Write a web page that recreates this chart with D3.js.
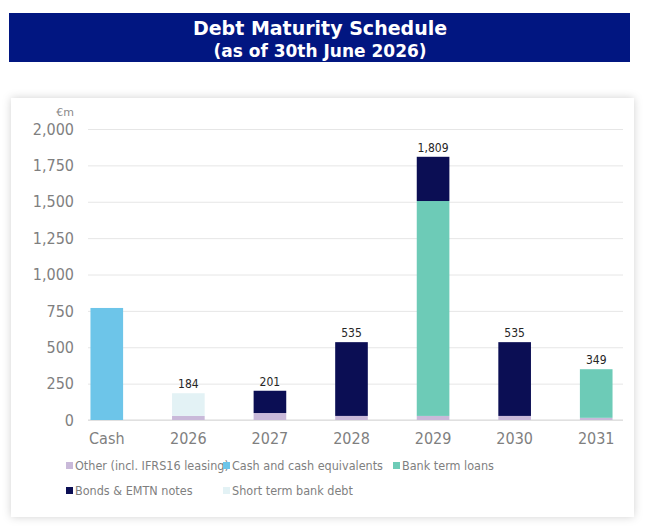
<!DOCTYPE html>
<html><head><meta charset="utf-8">
<script src="https://cdn.jsdelivr.net/npm/d3@7"></script>
<style>body{margin:0;background:#fff;font-family:"DejaVu Sans",Verdana,sans-serif}</style>
</head><body>
<svg id="c" width="645" height="530"></svg>
<script>
const categories=["Cash","2026","2027","2028","2029","2030","2031"];
const other=[0,28,48,28,28,28,15];
const cashEq=[770,0,0,0,0,0,0];
const bankLoans=[0,0,0,0,1477,0,334];
const bonds=[0,0,153,507,304,507,0];
const shortTerm=[0,156,0,0,0,0,0];
const totals=[null,184,201,535,1809,535,349];
const yTicks=[0,250,500,750,1000,1250,1500,1750,2000];
const seriesNames=["Other (incl. IFRS16 leasing)","Cash and cash equivalents","Bank term loans","Bonds & EMTN notes","Short term bank debt"];
const colors=["#c9b9d9","#6dc5e9","#6dcbb7","#0b0e54","#e3f2f5"];
const seriesData=[other,cashEq,bankLoans,bonds,shortTerm];

const svg=d3.select("#c");
const defs=svg.append("defs");
const f=defs.append("filter").attr("id","sh").attr("x","-5%").attr("y","-5%").attr("width","110%").attr("height","110%");
f.append("feDropShadow").attr("dx",0).attr("dy",0).attr("stdDeviation",4).attr("flood-color","#000").attr("flood-opacity",0.18);
svg.append("rect").attr("x",9).attr("y",13).attr("width",621).attr("height",49).attr("fill","#011681");
svg.append("text").attr("x",320).attr("y",35).attr("text-anchor","middle").attr("fill","#fff").attr("font-weight","bold").attr("font-size",19).text("Debt Maturity Schedule");
svg.append("text").attr("x",320).attr("y",57).attr("text-anchor","middle").attr("fill","#fff").attr("font-weight","bold").attr("font-size",17).text("(as of 30th June 2026)");
svg.append("rect").attr("x",11).attr("y",98).attr("width",623).attr("height",419).attr("fill","#fff").attr("filter","url(#sh)");

const x=d3.scaleBand().domain(categories).range([66,637]).paddingInner(0.6).paddingOuter(0.3);
const y=d3.scaleLinear().domain([0,2000]).range([420,129]);
const ya=svg.append("g").attr("transform","translate(88,0)").call(d3.axisLeft(y).tickValues(yTicks).tickSize(-535).tickFormat(d3.format(",")));
ya.select(".domain").remove();
ya.selectAll(".tick line").attr("stroke","#e6e6e6");
ya.selectAll(".tick text").attr("fill","#7f7f7f").attr("font-size",16).attr("x",-14).attr("font-family","DejaVu Sans Condensed, sans-serif");
svg.append("line").attr("x1",88).attr("x2",623).attr("y1",y(0)).attr("y2",y(0)).attr("stroke","#d9d9d9");
svg.append("text").attr("x",65).attr("y",116).attr("text-anchor","middle").attr("fill","#8a8a8a").attr("font-size",11).text("€m");

const stack=d3.stack().keys(d3.range(5)).value((d,k)=>seriesData[k][d])(d3.range(categories.length));
stack.forEach((layer,k)=>{
  svg.append("g").selectAll("rect").data(layer).join("rect")
   .attr("x",(d,i)=>x(categories[i])).attr("width",x.bandwidth())
   .attr("y",d=>y(d[1])).attr("height",d=>y(d[0])-y(d[1])).attr("fill",colors[k]);
});
svg.append("g").selectAll("text").data(totals.map((t,i)=>({t,i})).filter(d=>d.t!=null)).join("text")
  .attr("x",d=>x(categories[d.i])+x.bandwidth()/2).attr("y",d=>y(d.t)-5).attr("text-anchor","middle")
  .attr("font-size",12).attr("fill","#262626").attr("font-family","DejaVu Sans Condensed, sans-serif").text(d=>d3.format(",")(d.t));
const xa=svg.append("g").attr("transform","translate(0,420)").call(d3.axisBottom(x).tickSize(0));
xa.select(".domain").remove();
xa.selectAll("text").attr("fill","#7f7f7f").attr("font-size",16).attr("dy","1.3em").attr("font-family","DejaVu Sans Condensed, sans-serif");

const legPos=[[66,470],[223,470],[393,470],[66,495],[223,495]];
seriesNames.forEach((n,k)=>{
  const g=svg.append("g").attr("transform",`translate(${legPos[k][0]},${legPos[k][1]})`);
  g.append("rect").attr("x",0).attr("y",-8).attr("width",7).attr("height",7).attr("fill",colors[k]);
  g.append("text").attr("x",9).attr("y",0).attr("font-size",12.5).attr("fill","#7f7f7f").attr("font-family","DejaVu Sans Condensed, sans-serif").text(n);
});
</script>
</body></html>
